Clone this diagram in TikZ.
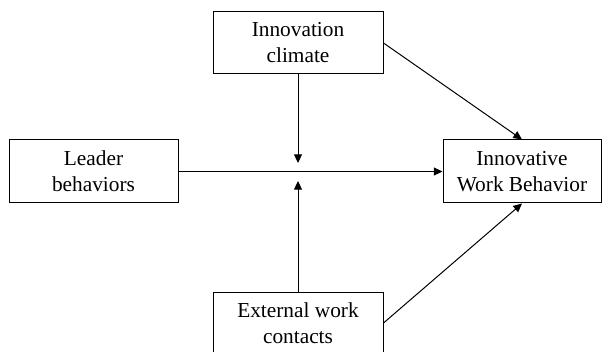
\documentclass[tikz,border=0pt]{standalone}
\usepackage{fontspec}
\setmainfont{Liberation Serif}
\usetikzlibrary{arrows.meta}
\begin{document}
\begin{tikzpicture}[x=0.75pt,y=-0.75pt,
  box/.style={draw, line width=0.75pt, align=center, inner sep=0pt,
    font=\fontsize{16}{19.5}\selectfont},
  link/.style={line width=0.75pt, -{Triangle[length=6.5pt,width=6pt]}}]
  \useasboundingbox (0,0) rectangle (602,352);
  \clip (0,0) rectangle (602,352);
  % construct boxes
  \node[box, minimum width=127.5pt, minimum height=46.5pt] (clim) at (298,43) {Innovation\\climate};
  \node[box, minimum width=126.75pt, minimum height=47.25pt] (lead) at (93.5,171.5) {Leader\\behaviors};
  \node[box, minimum width=118.5pt, minimum height=47.25pt] (iwb) at (522,171.5) {Innovative\\Work Behavior};
  \node[box, minimum width=127.5pt, minimum height=46.5pt] (ext) at (298,323) {External work\\contacts};
  % moderator arrow tips meet the main path
  \coordinate (modtop) at (298,163);
  \coordinate (modbot) at (298,181);
  % main effect
  \draw[link] (lead.east) -- (iwb.west);
  % moderating effects
  \draw[link] (clim.south) -- (modtop);
  \draw[link] (ext.north) -- (modbot);
  % direct effects of the moderators
  \draw[link] (clim.east) -- (iwb.north);
  \draw[link] (ext.east) -- (iwb.south);
\end{tikzpicture}
\end{document}
